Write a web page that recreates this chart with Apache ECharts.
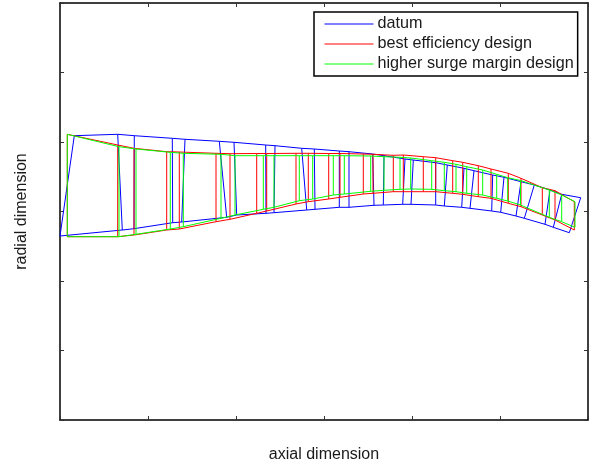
<!DOCTYPE html>
<html><head><meta charset="utf-8">
<style>html,body{margin:0;padding:0;background:#fff}#c{width:594px;height:463px}</style>
<script src="https://cdn.jsdelivr.net/npm/echarts@6/dist/echarts.min.js"></script>
</head><body><div id="c"></div>
<script>
const seriesNames = ['datum','best efficiency design','higher surge margin design'];
const datumTipX = [14.3,57.7,74.3,112.3,125,159.3,174,205.7,215,241.7,254.3,279.3,289,312.7,324,345,353.3,375.7,387.3,404,414,432.7,444,461,474.3,490,501.7,520.7];
const datumTipY = [284.3,285.7,284.3,281.7,280.7,278.7,277.7,275,274.3,271.7,271,269,268.3,266,264.3,261,260,257.3,255,251.7,249.3,245,242.7,238.3,235,230,225.7,222.3];
const datumHubX = [0,62.3,74,112.7,121.7,166.7,176.7,206,214,246.7,255,279.3,289,314,323.3,342.7,351,375.7,384.3,401.7,410,431.7,440.7,456,464.3,485,493.3,509.3];
const datumHubY = [184,190,191.3,197.3,198,202.7,205,206.7,207.3,210,210.7,212.7,212.7,214.7,215,215.7,215.7,215,214,212.7,211.7,209,207.7,204,201.7,195.7,192.7,187.3];
const bestX = [7.3,57.7,74,106.7,119.3,156,170,196.7,206.7,236,248.3,268.7,280,303.3,313,333.3,343.3,363.3,375.7,392.7,402.7,418.3,431,448.3,461,482.3,495,514.3];
const bestTipY = [285.7,275,271.7,268.3,268,266.7,266.3,266.5,266.5,266.7,266.7,266.5,266.5,266,265.7,264.7,265,263.3,262.3,259.3,257.7,254.3,251,246.7,241.7,232.3,229.3,218.3];
const bestHubY = [183.3,183.3,185,190,191,198.3,200.7,206.7,209,216,218.3,221,222.7,226,226.7,228.3,228.3,228.3,228.3,226.7,225.7,223.3,221.7,216.7,213.3,205,200,190];
const surgeX = [7.3,59,76,110.3,123.3,161,175,203.3,214,239.3,252.7,273.3,284.3,310.7,324,340,350.7,371.7,384.3,396,406.7,422.7,436.7,447.7,460.5,489.3,501.7,515];
const surgeTipY = [285.7,273.3,271,267.7,266.7,265.7,264.3,264.3,264.3,264.3,264.3,264.3,264.3,264,263.3,262.7,262,259.3,257.7,255.7,253.3,250,245.7,242.3,239.5,230,225,218.3];
const surgeHubY = [183.3,183.3,185.7,191,193.3,201.7,205,210.7,212.7,219.3,221,225,226,228.7,229.7,230.7,231,230.7,229.3,228.3,226.7,225,221.7,219,215,202.7,198.3,192.7];

const GAP = ['-','-'];
function outline(tx, ty, hx, hy) {
  const d = [];
  tx.forEach((x,i)=>d.push([x,ty[i]])); d.push(GAP);
  hx.forEach((x,i)=>d.push([x,hy[i]])); d.push(GAP);
  tx.forEach((x,i)=>{d.push([x,ty[i]]);d.push([hx[i],hy[i]]);d.push(GAP);});
  return d;
}
const mk = (name,color,data)=>({name,type:'line',data,symbol:'none',showSymbol:false,connectNulls:false,
  lineStyle:{color,width:1},itemStyle:{color},clip:true,silent:true});
const axisBase = {axisLine:{show:true,onZero:false,lineStyle:{color:'#000',width:1.5}},
  axisTick:{show:true,inside:true,length:4,lineStyle:{color:'#333',width:1}},
  axisLabel:{show:false},splitLine:{show:false}};
const nameStyle = {color:'#1a1a1a',fontFamily:'Liberation Sans',fontSize:16};
const chart = echarts.init(document.getElementById('c'),null,{renderer:'canvas'});
chart.setOption({
  animation:false,backgroundColor:'#fff',
  grid:{left:60,top:3,width:528,height:417,containLabel:false,outerBoundsMode:'none'},
  xAxis:[
    {...axisBase,type:'value',min:0,max:528,interval:88,position:'bottom',name:'axial dimension',nameLocation:'middle',nameGap:27,nameTextStyle:nameStyle},
    {...axisBase,type:'value',min:0,max:528,interval:88,position:'top'}
  ],
  yAxis:[
    {...axisBase,type:'value',min:0,max:417,interval:69.5,position:'left',name:'radial dimension',nameLocation:'middle',nameGap:30,nameTextStyle:nameStyle},
    {...axisBase,type:'value',min:0,max:417,interval:69.5,position:'right'}
  ],
  legend:{orient:'vertical',left:314,top:12,itemWidth:49,itemHeight:14,itemGap:4,padding:[4,4,4,10],
    backgroundColor:'#fff',borderColor:'#000',borderWidth:1.5,borderRadius:0,itemStyle:{opacity:0},lineStyle:{width:1},
    textStyle:{...nameStyle,fontSize:16.2,padding:[0,0,0,-1]},data:seriesNames},
  series:[
    mk(seriesNames[0],'#0000ff',outline(datumTipX,datumTipY,datumHubX,datumHubY)),
    mk(seriesNames[1],'#ff0000',outline(bestX,bestTipY,bestX,bestHubY)),
    mk(seriesNames[2],'#00ff00',outline(surgeX,surgeTipY,surgeX,surgeHubY))
  ]
});
</script></body></html>
